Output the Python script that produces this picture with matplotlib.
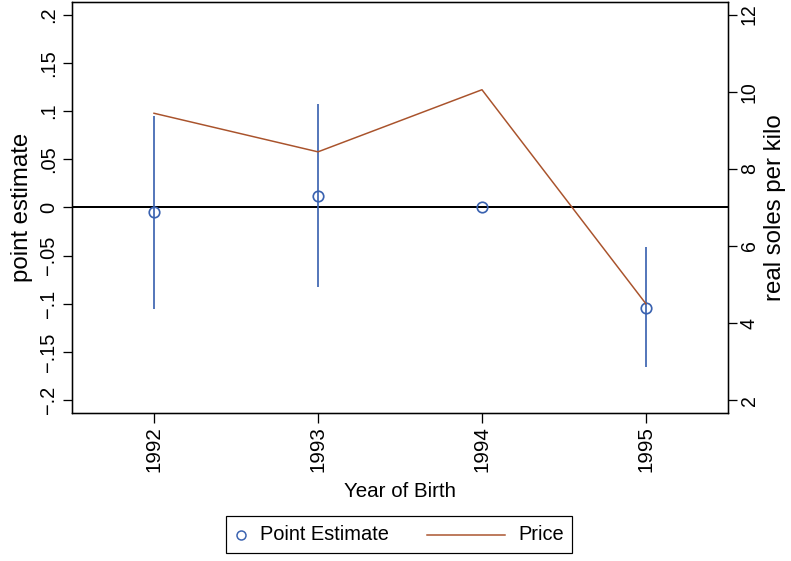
import matplotlib
matplotlib.use("Agg")
import matplotlib.pyplot as plt
from matplotlib.lines import Line2D
from matplotlib.offsetbox import AnchoredOffsetbox, DrawingArea, HPacker, TextArea

plt.rcParams["font.family"] = ["Liberation Sans", "DejaVu Sans"]

# cohort estimates with 95% bands, and the real price series
years = [1992, 1993, 1994, 1995]
estimate = [-0.005, 0.012, 0.0, -0.104]
ci_low = [-0.105, -0.083, 0.0, -0.166]
ci_high = [0.095, 0.107, 0.0, -0.041]
price = [9.44, 8.44, 10.05, 4.5]

est_ticks = [-0.2, -0.15, -0.1, -0.05, 0, 0.05, 0.1, 0.15, 0.2]
est_labels = ["−.2", "−.15", "−.1", "−.05", "0", ".05", ".1", ".15", ".2"]
price_ticks = [2, 4, 6, 8, 10, 12]

C_EST = "#3a62b0"
C_PRICE = "#a9532c"

EST_LIM = (-0.2135, 0.2133)

fig = plt.figure(figsize=(791 / 72, 561 / 72), dpi=72)
ax = fig.add_axes([0.0910, 0.2633, 0.8293, 0.7337])

ax.axhline(0, color="black", lw=2, zorder=2)
ax.vlines(years, ci_low, ci_high, color=C_EST, lw=1.7, zorder=3)
ax.plot(years, estimate, "o", mfc="none", mec=C_EST, mew=1.7, ms=10.5, zorder=4)

ax.set_xlim(1991.5, 1995.5)
ax.set_ylim(*EST_LIM)
ax.set_xticks(years, [str(y) for y in years], rotation=90)
ax.set_yticks(est_ticks, est_labels, rotation=90, va="center")
ax.tick_params(axis="x", length=10, width=1.3, pad=3, labelsize=20.5)
ax.tick_params(axis="y", length=9, width=1.3, pad=5, labelsize=20)

# price on its own scale: 7 + 25 * estimate keeps the two grids aligned
ax2 = ax.twinx()
ax2.plot(years, price, color=C_PRICE, lw=1.5)
ax2.set_ylim(7 + 25 * EST_LIM[0], 7 + 25 * EST_LIM[1])
ax2.set_yticks(price_ticks, [str(t) for t in price_ticks], rotation=90, va="center")
ax2.tick_params(axis="y", length=9, width=1.3, pad=3, labelsize=19.5)

for a in (ax, ax2):
    for sp in a.spines.values():
        sp.set_linewidth(1.3)
        sp.set_color("black")

ax.set_ylabel("point estimate", fontsize=24, va="center")
ax.yaxis.set_label_coords(-0.0762, 0.5)
ax2.set_ylabel("real soles per kilo", fontsize=24, va="center", rotation=90)
ax2.yaxis.set_label_coords(1.0716, 0.5)
ax.set_xlabel("Year of Birth", fontsize=20.5, va="center")
ax.xaxis.set_label_coords(0.5, -0.191)

# legend box below the axes
mark_da = DrawingArea(14, 20, 0, 0)
mark_da.add_artist(Line2D([7], [10], marker="o", ls="none", mfc="none",
                          mec=C_EST, mew=1.5, ms=9))
line_da = DrawingArea(78, 20, 0, 0)
line_da.add_artist(Line2D([0, 78], [10, 10], color=C_PRICE, lw=1.5))

txt = dict(size=20)
est_entry = HPacker(children=[mark_da, TextArea("Point Estimate", textprops=txt)],
                    align="center", pad=0, sep=12)
price_entry = HPacker(children=[line_da, TextArea("Price", textprops=txt)],
                      align="center", pad=0, sep=13)
row = HPacker(children=[est_entry, price_entry], align="center", pad=0, sep=38)

leg = AnchoredOffsetbox(loc="center", child=row, pad=0.42, borderpad=0,
                        frameon=True, prop=dict(size=20),
                        bbox_to_anchor=(399 / 791, 1 - 534.5 / 561),
                        bbox_transform=fig.transFigure)
leg.patch.set_boxstyle("square", pad=0)
leg.patch.set_edgecolor("black")
leg.patch.set_linewidth(1.2)
fig.add_artist(leg)

fig.savefig("out.png", dpi=72)
